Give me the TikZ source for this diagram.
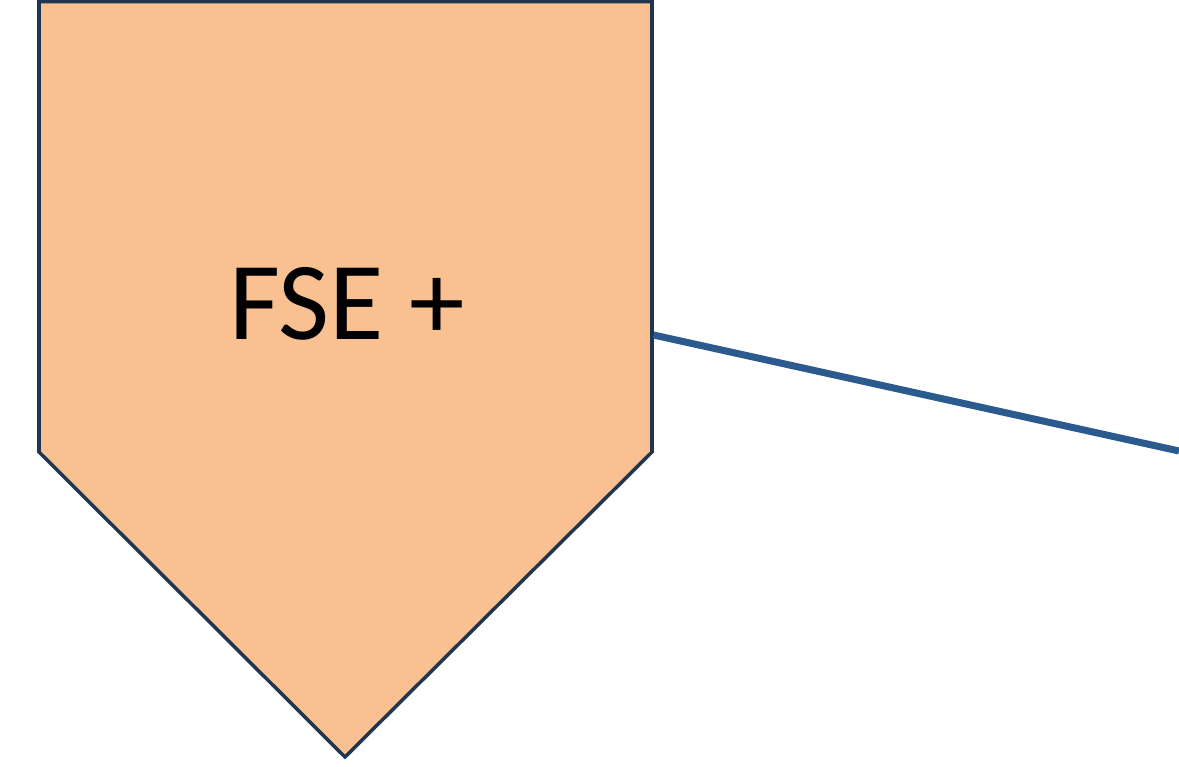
\documentclass[tikz,border=0pt]{standalone}
\usepackage{fontspec}
\setmainfont{Carlito}
\usepackage{tikz}
\usetikzlibrary{arrows.meta,positioning,calc}
\definecolor{peach}{HTML}{F9C192}
\definecolor{navy}{HTML}{1F3550}
\definecolor{linkblue}{HTML}{2B5A8E}

\begin{document}
\begin{tikzpicture}[x=0.025cm,y=-0.025cm, every node/.style={align=center}]
\useasboundingbox (0,0) rectangle (1179,767);
\draw[navy,fill=peach,line width=2.5pt,line join=miter] (39,1.5) -- (652,1.5) -- (652,452) -- (345,757) -- (39,452) -- cycle;
\node[anchor=base,font=\fontsize{79}{95}\selectfont] (fse) at (347,340) {FSE +};
\coordinate (fseEdge) at (653.5,335);
\coordinate (farEnd) at (1179,451);
\draw[linkblue,line width=5pt] (fseEdge) -- (farEnd);
\end{tikzpicture}
\end{document}
